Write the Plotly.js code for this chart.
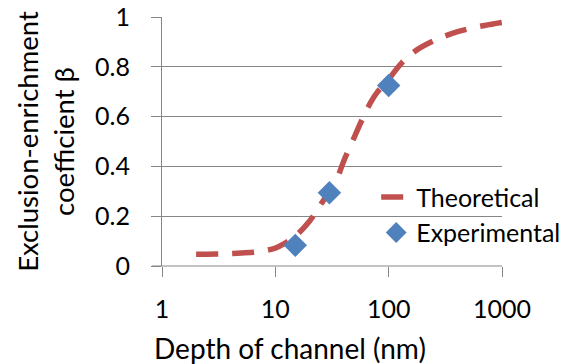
<!DOCTYPE html>
<html><head><meta charset="utf-8">
<script src="https://cdn.plot.ly/plotly-3.0.1.min.js"></script>
<style>html,body{margin:0;padding:0;background:#fff;}#chart{width:567px;height:364px;}</style>
</head><body><div id="chart"></div>
<script>
const theoX = [2, 3, 4, 5, 7, 10, 12, 15, 20, 25, 30, 35, 40, 50, 60, 70, 80, 100, 130, 180, 250, 300, 400, 500, 700, 1000];
const theoY = [0.047, 0.048, 0.05, 0.052, 0.057, 0.072, 0.09, 0.12, 0.18, 0.245, 0.3, 0.35, 0.42, 0.52, 0.6, 0.66, 0.7, 0.75, 0.815, 0.87, 0.905, 0.92, 0.94, 0.952, 0.966, 0.978];
const expX = [15, 30, 100];
const expY = [0.083, 0.294, 0.725];
const xTicks = [1, 10, 100, 1000];
const yTicks = [0, 0.2, 0.4, 0.6, 0.8, 1];
const yTickText = ['0', '0.2', '0.4', '0.6', '0.8', '1'];
const xTitle = 'Depth of channel (nm)';
const yTitle = 'Exclusion-enrichment<br>coefficient β';

const font = 'Lato, "Open Sans", sans-serif';
const traces = [
  {x: theoX, y: theoY, name: 'Theoretical', mode: 'lines', type: 'scatter',
   line: {color: '#C0504D', width: 5.5, dash: '22px,14px', shape: 'spline'}},
  {x: expX, y: expY, name: 'Experimental', mode: 'markers', type: 'scatter',
   marker: {symbol: 'diamond', color: '#4F81BD', size: 18, line: {width: 0}}}
];
const layout = {
  width: 567, height: 364,
  margin: {l: 162, r: 65, t: 17, b: 98, autoexpand: false},
  paper_bgcolor: '#fff', plot_bgcolor: '#fff',
  font: {family: font, color: '#000'},
  xaxis: {type: 'log', range: [0, 3], tickvals: xTicks, ticktext: xTicks.map(String),
    showgrid: false, zeroline: false, showline: false, ticks: 'outside', ticklen: 10, tickcolor: '#868686',
    tickfont: {size: 25, family: font}, ticklabelstandoff: 11},
  yaxis: {range: [0, 1], tickvals: yTicks, ticktext: yTickText,
    showgrid: true, gridcolor: '#868686', gridwidth: 1, zeroline: false,
    showline: true, linecolor: '#868686', linewidth: 1, ticks: 'outside', ticklen: 10, tickcolor: '#868686',
    tickfont: {size: 25, family: font}, ticklabelstandoff: 16,
    title: {text: yTitle, font: {size: 27.5, family: font}, standoff: 12}},
  showlegend: true,
  legend: {x: 0.63, y: 0.3685, xanchor: 'left', yanchor: 'top', bgcolor: 'rgba(0,0,0,0)',
    font: {size: 25, family: font}, itemwidth: 30},
  annotations: [{text: xTitle, xref: 'paper', yref: 'paper', x: 0.376, y: -0.33,
    xanchor: 'center', yanchor: 'middle', showarrow: false, font: {size: 28, family: font}}],
  shapes: [{type: 'line', xref: 'paper', yref: 'paper', x0: -0.03, x1: 1, y0: 0, y1: 0,
    line: {color: '#868686', width: 1}, layer: 'below'}]
};
Plotly.newPlot('chart', traces, layout, {displayModeBar: false, staticPlot: true});
</script></body></html>
